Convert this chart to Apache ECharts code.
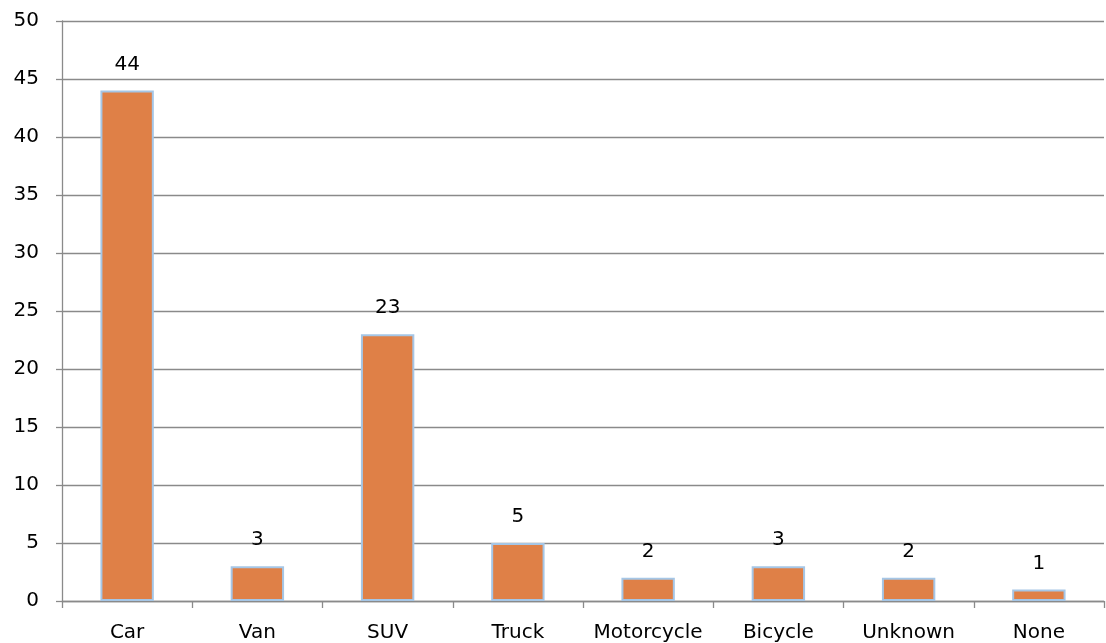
<!DOCTYPE html>
<html>
<head>
<meta charset="utf-8">
<script src="https://cdn.jsdelivr.net/npm/echarts@6/dist/echarts.min.js"></script>
<style>
  html, body { margin: 0; padding: 0; background: #ffffff; }
  #chart { width: 1106px; height: 643px; }
</style>
</head>
<body>
<div id="chart"></div>
<script>
// Vehicle types and counts
const categories = ['Car', 'Van', 'SUV', 'Truck', 'Motorcycle', 'Bicycle', 'Unknown', 'None'];
const counts = [44, 3, 23, 5, 2, 3, 2, 1];

const axisFont = '"DejaVu Sans", sans-serif';
const gridGrey = '#8a8a8a';

const chart = echarts.init(document.getElementById('chart'), null, { renderer: 'canvas' });
chart.setOption({
  animation: false,
  backgroundColor: '#ffffff',
  grid: { left: 62, right: 2, top: 21, bottom: 42, containLabel: false },
  xAxis: {
    type: 'category',
    data: categories,
    axisLine: { show: true, lineStyle: { color: gridGrey, width: 1.3 } },
    axisTick: { show: true, interval: 0, alignWithLabel: false, length: 7, inside: false, lineStyle: { color: gridGrey, width: 1.3 } },
    axisLabel: { interval: 0, hideOverlap: false, color: '#000000', fontSize: 20, fontFamily: axisFont, margin: 22 },
    splitLine: { show: false }
  },
  yAxis: {
    type: 'value',
    min: 0,
    max: 50,
    interval: 5,
    axisLine: { show: true, lineStyle: { color: gridGrey, width: 1.3 } },
    axisTick: { show: true, length: 6, lineStyle: { color: gridGrey, width: 1.3 } },
    axisLabel: { color: '#000000', fontSize: 20, fontFamily: axisFont, margin: 23 },
    splitLine: { show: true, lineStyle: { color: gridGrey, width: 1.3 } }
  },
  series: [{
    type: 'bar',
    data: counts,
    barWidth: '41%',
    itemStyle: { color: '#df8047', borderColor: '#a5c6e6', borderWidth: 2 },
    label: {
      show: true,
      position: 'top',
      distance: 16,
      color: '#000000',
      fontSize: 20,
      fontFamily: axisFont
    }
  }]
});
</script>
</body>
</html>
